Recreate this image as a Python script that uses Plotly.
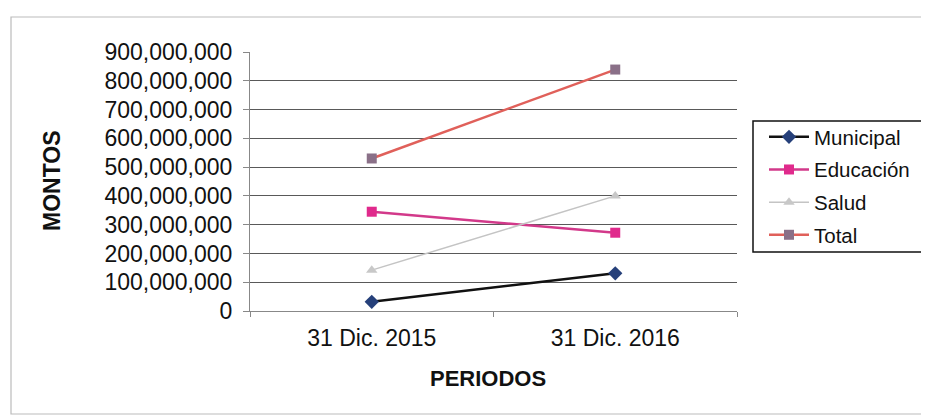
import plotly.graph_objects as go

periodos = ["31 Dic. 2015", "31 Dic. 2016"]
municipal = [32_000_000, 131_000_000]
educacion = [345_000_000, 272_000_000]
salud = [142_000_000, 400_000_000]
total = [530_000_000, 839_000_000]

FONT = "Liberation Sans, Arial, sans-serif"

fig = go.Figure()
fig.add_trace(go.Scatter(x=periodos, y=municipal, name="Municipal", mode="lines+markers",
                         legendgroup="m",
                         line=dict(color="#111111", width=2.5),
                         marker=dict(symbol="diamond", size=11, color="#26407a")))
fig.add_trace(go.Scatter(x=periodos, y=educacion, name="Educación", mode="lines+markers",
                         legendgroup="e",
                         line=dict(color="#d2398a", width=2.5),
                         marker=dict(symbol="square", size=10, color="#e02a8c")))
fig.add_trace(go.Scatter(x=periodos, y=salud, name="Salud", mode="lines+markers",
                         legendgroup="s",
                         line=dict(color="#c4c4c4", width=1.5),
                         marker=dict(symbol="triangle-up", size=10, color="#c8c8c8")))
fig.add_trace(go.Scatter(x=periodos, y=total, name="Total", mode="lines+markers",
                         legendgroup="t",
                         line=dict(color="#e0605a", width=2.5),
                         marker=dict(symbol="square", size=10, color="#8a7088")))

# page body adds an 8px offset; work in reference-screen coordinates
OFF = 8
W, H = 929 - OFF, 420 - OFF
PL, PR, PT, PB = 250, 737, 52, 311  # plot area in screen coords
L, T = PL - OFF, PT - OFF
R, B = W - (PR - OFF), H - (PB - OFF)
pw, ph = PR - PL, PB - PT


def px(x):
    return (x - PL) / pw


def py(y):
    return (PB - y) / ph


fig.update_layout(
    width=W, height=H,
    margin=dict(l=L, r=R, t=T, b=B, pad=0, autoexpand=False),
    paper_bgcolor="white", plot_bgcolor="white",
    font=dict(family=FONT, size=20, color="#111111"),
    showlegend=True,
    legend=dict(x=px(764), y=py(117), xanchor="left", yanchor="top",
                borderwidth=0, bgcolor="rgba(0,0,0,0)",
                font=dict(family=FONT, size=20.5, color="#111111"),
                itemwidth=40, tracegroupgap=3, traceorder="grouped"),
    xaxis=dict(type="category", range=[-0.5, 1.5], showgrid=False, showline=True,
               linecolor="#888888", linewidth=1, ticks="outside", tickson="boundaries",
               ticklen=5, tickcolor="#888888",
               tickfont=dict(family=FONT, size=23, color="#111111"),
               ticklabelstandoff=6, fixedrange=True),
    yaxis=dict(range=[0, 900_000_000], dtick=100_000_000, tickformat=",d",
               showgrid=True, gridcolor="#595959", gridwidth=1,
               showline=True, linecolor="#888888", linewidth=1,
               ticks="outside", ticklen=6, tickcolor="#888888",
               tickfont=dict(family=FONT, size=23, color="#111111"),
               ticklabelstandoff=6, zeroline=False, fixedrange=True),
    annotations=[
        dict(text="<b>MONTOS</b>", x=px(52), y=py(181), xref="paper", yref="paper",
             textangle=-90, showarrow=False, font=dict(family=FONT, size=23, color="#111111"),
             xanchor="center", yanchor="middle"),
        dict(text="<b>PERIODOS</b>", x=px(488), y=py(378), xref="paper", yref="paper",
             showarrow=False, font=dict(family=FONT, size=22, color="#111111"),
             xanchor="center", yanchor="middle"),
    ],
    shapes=[
        dict(type="rect", xref="paper", yref="paper",
             x0=px(11), x1=px(926), y0=py(414), y1=py(17),
             line=dict(color="#bbbbbb", width=1.2), layer="below"),
        dict(type="rect", xref="paper", yref="paper",
             x0=px(753), x1=px(922), y0=py(252), y1=py(121),
             line=dict(color="#111111", width=1.5), fillcolor="white", layer="below"),
    ],
)

fig.write_html("out.html")
